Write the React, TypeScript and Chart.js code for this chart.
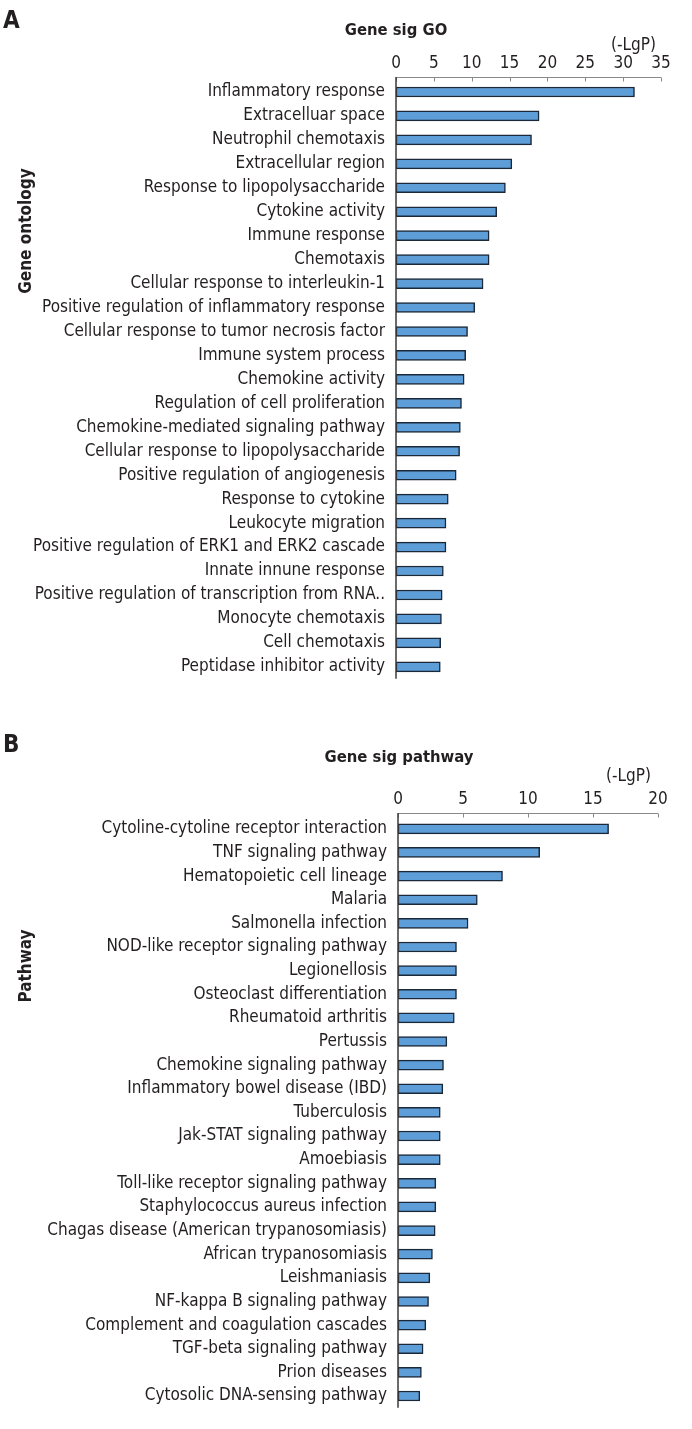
import React, { useEffect, useRef } from "react";
import { Chart, registerables } from "chart.js";

Chart.register(...registerables);

const goCategories = [
  "Inflammatory response",
  "Extracelluar space",
  "Neutrophil chemotaxis",
  "Extracellular region",
  "Response to lipopolysaccharide",
  "Cytokine activity",
  "Immune response",
  "Chemotaxis",
  "Cellular response to interleukin-1",
  "Positive regulation of inflammatory response",
  "Cellular response to tumor necrosis factor",
  "Immune system process",
  "Chemokine activity",
  "Regulation of cell proliferation",
  "Chemokine-mediated signaling pathway",
  "Cellular response to lipopolysaccharide",
  "Positive regulation of angiogenesis",
  "Response to cytokine",
  "Leukocyte migration",
  "Positive regulation of ERK1 and ERK2 cascade",
  "Innate innune response",
  "Positive regulation of transcription from RNA..",
  "Monocyte chemotaxis",
  "Cell chemotaxis",
  "Peptidase inhibitor activity",
];
const goValues = [
  31.5, 18.9, 17.9, 15.3, 14.45, 13.3, 12.3, 12.3, 11.5, 10.4, 9.45, 9.2, 9.0,
  8.65, 8.5, 8.4, 7.95, 6.9, 6.6, 6.6, 6.25, 6.1, 6.0, 5.9, 5.85,
];
const goAxisMax = 35;
const goTickStep = 5;

const pathwayCategories = [
  "Cytoline-cytoline receptor interaction",
  "TNF signaling pathway",
  "Hematopoietic cell lineage",
  "Malaria",
  "Salmonella infection",
  "NOD-like receptor signaling pathway",
  "Legionellosis",
  "Osteoclast differentiation",
  "Rheumatoid arthritis",
  "Pertussis",
  "Chemokine signaling pathway",
  "Inflammatory bowel disease (IBD)",
  "Tuberculosis",
  "Jak-STAT signaling pathway",
  "Amoebiasis",
  "Toll-like receptor signaling pathway",
  "Staphylococcus aureus infection",
  "Chagas disease (American trypanosomiasis)",
  "African trypanosomiasis",
  "Leishmaniasis",
  "NF-kappa B signaling pathway",
  "Complement and coagulation cascades",
  "TGF-beta signaling pathway",
  "Prion diseases",
  "Cytosolic DNA-sensing pathway",
];
const pathwayValues = [
  16.2, 10.9, 8.04, 6.1, 5.39, 4.5, 4.5, 4.5, 4.33, 3.76, 3.5, 3.45, 3.25,
  3.25, 3.25, 2.91, 2.91, 2.86, 2.65, 2.45, 2.35, 2.14, 1.93, 1.8, 1.68,
];
const pathwayAxisMax = 20;
const pathwayTickStep = 5;

const FONT = "'DejaVu Sans Condensed', 'DejaVu Sans', sans-serif";
const TEXT = "#231f20";

type Geo = {
  width: number;
  height: number;
  left: number;
  right: number;
  top: number;
  bottom: number;
  axisLine: number; // y of the top axis line (canvas coords)
  labelPad: number;
};

// Draws the top axis line, its inward tick marks and the vertical axis line.
const axisLinesPlugin = {
  id: "axisLines",
  afterDatasetsDraw(chart: any, _args: any, opts: any) {
    const { ctx, chartArea } = chart;
    const xs = chart.scales.x;
    const y0 = opts.axisLine as number;
    ctx.save();
    ctx.lineWidth = 1;
    ctx.strokeStyle = "#8a8a8a";
    ctx.beginPath();
    ctx.moveTo(xs.left, y0);
    ctx.lineTo(xs.right, y0);
    ctx.stroke();
    xs.ticks.forEach((t: any) => {
      const px = Math.round(xs.getPixelForValue(t.value)) + 0.5;
      ctx.beginPath();
      ctx.moveTo(px, y0);
      ctx.lineTo(px, y0 + 4);
      ctx.stroke();
    });
    ctx.strokeStyle = "#3a3a3a";
    ctx.lineWidth = 1.5;
    ctx.beginPath();
    ctx.moveTo(chartArea.left, y0 - 0.5);
    ctx.lineTo(chartArea.left, chartArea.bottom);
    ctx.stroke();
    ctx.restore();
  },
};

function buildChart(
  canvas: HTMLCanvasElement,
  labels: string[],
  values: number[],
  max: number,
  step: number,
  g: Geo
) {
  return new Chart(canvas, {
    type: "bar",
    data: {
      labels,
      datasets: [
        {
          data: values,
          backgroundColor: "#5d9dd8",
          borderColor: "#1b2838",
          borderWidth: 1.5,
          borderSkipped: false,
          barThickness: 10,
        },
      ],
    },
    plugins: [axisLinesPlugin],
    options: {
      indexAxis: "y",
      responsive: false,
      animation: false,
      devicePixelRatio: 1,
      layout: {
        padding: {
          left: 0,
          top: 0,
          right: g.width - g.right,
          bottom: g.height - g.bottom,
        },
      },
      plugins: {
        legend: { display: false },
        tooltip: { enabled: false },
        title: { display: false },
        axisLines: { axisLine: g.axisLine },
      } as any,
      scales: {
        x: {
          position: "top",
          min: 0,
          max,
          ticks: {
            stepSize: step,
            font: { family: FONT, size: 17 },
            color: TEXT,
            padding: g.labelPad,
          },
          grid: { display: false, drawTicks: false },
          border: { display: false },
          afterFit: (s: any) => {
            s.height = g.top;
          },
        },
        y: {
          ticks: {
            font: { family: FONT, size: 17 },
            color: TEXT,
            padding: 11,
            autoSkip: false,
          },
          grid: { display: false, drawTicks: false },
          border: { display: false },
          afterFit: (s: any) => {
            s.width = g.left;
          },
        },
      },
    },
  });
}

const txt = (extra: React.CSSProperties): React.CSSProperties => ({
  position: "absolute",
  fontFamily: FONT,
  color: TEXT,
  whiteSpace: "nowrap",
  lineHeight: "1",
  ...extra,
});

export default function App() {
  const refA = useRef<HTMLCanvasElement>(null);
  const refB = useRef<HTMLCanvasElement>(null);

  useEffect(() => {
    const geoA: Geo = {
      width: 692, height: 700, left: 396, right: 661, top: 80, bottom: 681,
      axisLine: 77.5, labelPad: 6,
    };
    const geoB: Geo = {
      width: 692, height: 729, left: 398, right: 658, top: 117, bottom: 715,
      axisLine: 113.5, labelPad: 7,
    };
    const a = buildChart(refA.current!, goCategories, goValues, goAxisMax, goTickStep, geoA);
    const b = buildChart(
      refB.current!,
      pathwayCategories,
      pathwayValues,
      pathwayAxisMax,
      pathwayTickStep,
      geoB
    );
    return () => {
      a.destroy();
      b.destroy();
    };
  }, []);

  return (
    <div
      style={{
        position: "absolute",
        left: 0,
        top: 0,
        width: 692,
        height: 1429,
        background: "#fff",
        overflow: "hidden",
      }}
    >
      <canvas
        ref={refA}
        width={692}
        height={700}
        style={{ position: "absolute", left: 0, top: 0, width: 692, height: 700 }}
      />
      <canvas
        ref={refB}
        width={692}
        height={729}
        style={{ position: "absolute", left: 0, top: 700, width: 692, height: 729 }}
      />

      <div style={txt({ left: 3, top: 8, fontSize: 24, fontWeight: "bold" })}>A</div>
      <div
        style={txt({
          left: 396,
          top: 22,
          fontSize: 16.5,
          fontWeight: "bold",
          transform: "translateX(-50%)",
        })}
      >
        Gene sig GO
      </div>
      <div style={txt({ left: 611, top: 36, fontSize: 17 })}>(-LgP)</div>
      <div
        style={txt({
          left: 25,
          top: 231,
          fontSize: 17,
          fontWeight: "bold",
          transform: "translate(-50%, -50%) rotate(-90deg)",
        })}
      >
        Gene ontology
      </div>

      <div style={txt({ left: 3, top: 732, fontSize: 24, fontWeight: "bold" })}>B</div>
      <div
        style={txt({
          left: 399,
          top: 749,
          fontSize: 16.5,
          fontWeight: "bold",
          transform: "translateX(-50%)",
        })}
      >
        Gene sig pathway
      </div>
      <div style={txt({ left: 606, top: 767, fontSize: 17 })}>(-LgP)</div>
      <div
        style={txt({
          left: 25,
          top: 966,
          fontSize: 17,
          fontWeight: "bold",
          transform: "translate(-50%, -50%) rotate(-90deg)",
        })}
      >
        Pathway
      </div>
    </div>
  );
}
